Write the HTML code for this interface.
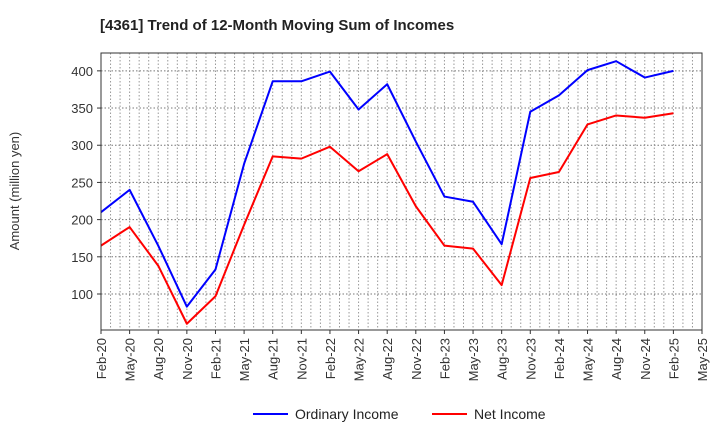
<!DOCTYPE html>
<html><head><meta charset="utf-8"><style>
body{margin:0;background:#fff;font-family:"Liberation Sans",sans-serif}
</style></head><body>
<svg id="c" width="720" height="440" xmlns="http://www.w3.org/2000/svg">
<text x="100" y="30" font-size="15" font-weight="bold" fill="#222">[4361]  Trend of 12-Month Moving Sum of Incomes</text>
<text transform="translate(19,191) rotate(-90)" text-anchor="middle" font-size="13" fill="#333">Amount (million yen)</text>
<g id="grid"></g><g id="ticks"></g><g id="lines"></g>
<rect x="101" y="53" width="601" height="277" fill="none" stroke="#333" stroke-width="1"/>
<g>
<line x1="253" y1="414" x2="288" y2="414" stroke="#0000ff" stroke-width="2"/>
<text x="295" y="419" font-size="14" fill="#222">Ordinary Income</text>
<line x1="432" y1="414" x2="467" y2="414" stroke="#ff0000" stroke-width="2"/>
<text x="474" y="419" font-size="14" fill="#222">Net Income</text>
</g>
</svg>
<script>
const categories=["Feb-20","May-20","Aug-20","Nov-20","Feb-21","May-21","Aug-21","Nov-21","Feb-22","May-22","Aug-22","Nov-22","Feb-23","May-23","Aug-23","Nov-23","Feb-24","May-24","Aug-24","Nov-24","Feb-25","May-25"];
const ordinaryIncome=[210,240,165,83,133,275,386,386,399,348,382,305,231,224,167,345,367,401,413,391,400];
const netIncome=[165,190,138,60,97,193,285,282,298,265,288,218,165,161,112,256,264,328,340,337,343];
const yTicks=[100,150,200,250,300,350,400];
const L=101,R=702,T=53,B=330,yMin=51.6,yMax=424;
const ns="http://www.w3.org/2000/svg";
const xs=i=>L+(R-L)*i/(categories.length-1);
const ys=v=>B-(v-yMin)/(yMax-yMin)*(B-T);
const grid=document.getElementById('grid'),ticks=document.getElementById('ticks'),lines=document.getElementById('lines');
function mk(tag,at,parent){const e=document.createElementNS(ns,tag);for(const k in at)e.setAttribute(k,at[k]);parent.appendChild(e);return e;}
const months=(categories.length-1)*3;
for(let m=1;m<months;m++){const x=L+(R-L)*m/months;
const g=mk('line',{x1:x,x2:x,y1:T,y2:B,stroke:'#999','stroke-dasharray':'1.5,2','stroke-width':1},grid);

}
yTicks.forEach(v=>{const y=ys(v);
const g=mk('line',{x1:L,x2:R,y1:y,y2:y,stroke:'#777','stroke-dasharray':'1.5,2','stroke-width':1},grid);


mk('line',{x1:L-4,x2:L,y1:y,y2:y,stroke:'#333'},ticks);
const t=mk('text',{x:L-8,y:y+5,'text-anchor':'end','font-size':13,fill:'#333'},ticks);t.textContent=v;

});
categories.forEach((c,i)=>{const x=xs(i);
mk('line',{x1:x,x2:x,y1:B,y2:B+4,stroke:'#333'},ticks);
const t=mk('text',{transform:`translate(${x+5},${B+8}) rotate(-90)`,'text-anchor':'end','font-size':13,fill:'#333'},ticks);t.textContent=c;

});
function series(d,col,name){const p=mk('polyline',{points:d.map((v,i)=>xs(i)+','+ys(v)).join(' '),fill:'none',stroke:col,'stroke-width':2,'stroke-linejoin':'round'},lines);

}
series(netIncome,'#ff0000','net-income-line');
series(ordinaryIncome,'#0000ff','ordinary-income-line');
</script>
</body></html>
